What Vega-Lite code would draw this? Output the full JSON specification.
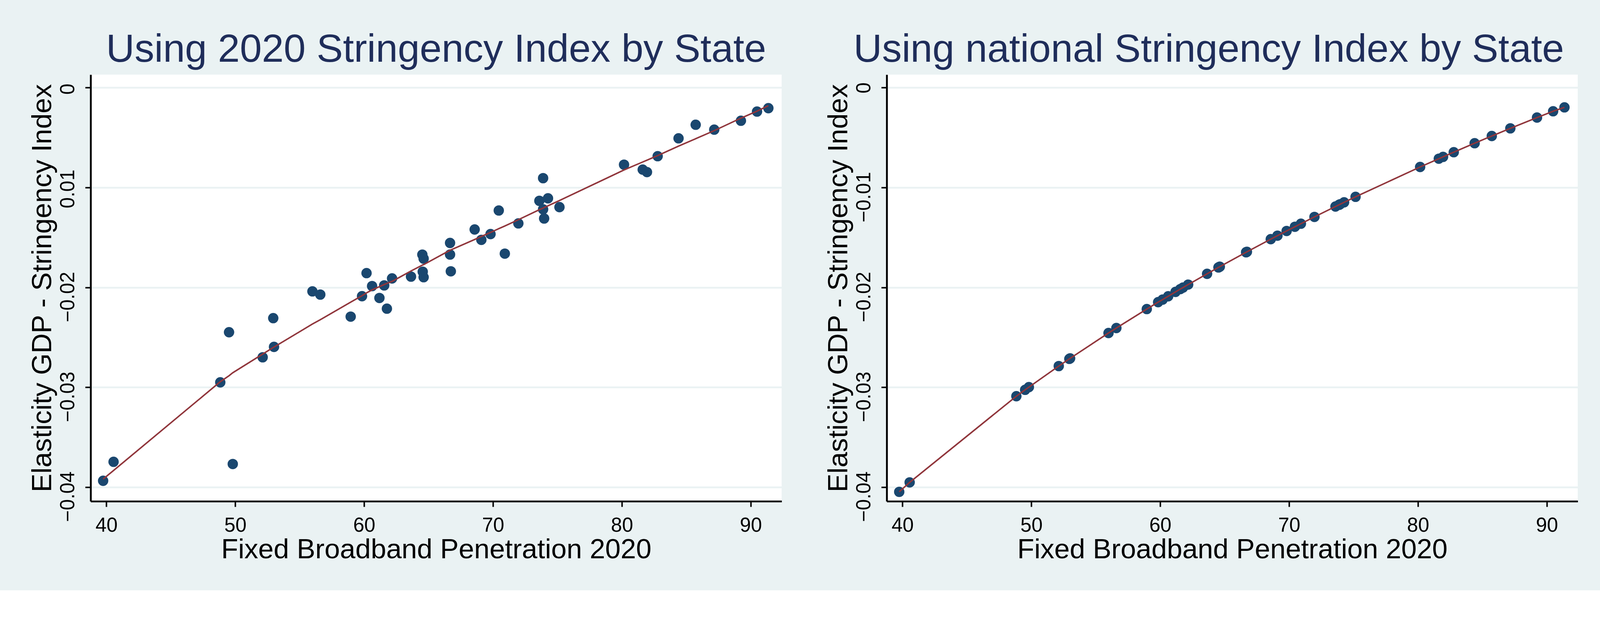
{
  "$schema": "https://vega.github.io/schema/vega-lite/v6.json",
  "background": "#EAF2F3",
  "padding": {"left": 72, "top": 76, "right": 115, "bottom": 68},
  "spacing": 109,
  "datasets": {
    "left": [
      {"x": 39.75, "y": -0.03937, "fit": -0.0392},
      {"x": 40.56, "y": -0.03747, "fit": -0.03834},
      {"x": 48.84, "y": -0.02951, "fit": -0.02945},
      {"x": 49.52, "y": -0.02449, "fit": -0.02885},
      {"x": 49.81, "y": -0.03769, "fit": -0.02855},
      {"x": 52.13, "y": -0.027, "fit": -0.02668},
      {"x": 52.95, "y": -0.02308, "fit": -0.02602},
      {"x": 53.01, "y": -0.02596, "fit": -0.02598},
      {"x": 55.99, "y": -0.0204, "fit": -0.02367},
      {"x": 56.6, "y": -0.02072, "fit": -0.02324},
      {"x": 58.96, "y": -0.02293, "fit": -0.02148},
      {"x": 59.84, "y": -0.02088, "fit": -0.02083},
      {"x": 60.19, "y": -0.01857, "fit": -0.02055},
      {"x": 60.62, "y": -0.01987, "fit": -0.02025},
      {"x": 61.19, "y": -0.02106, "fit": -0.01993},
      {"x": 61.56, "y": -0.0198, "fit": -0.01971},
      {"x": 61.77, "y": -0.02213, "fit": -0.0196},
      {"x": 62.17, "y": -0.0191, "fit": -0.0194},
      {"x": 63.64, "y": -0.01892, "fit": -0.01836},
      {"x": 64.52, "y": -0.01672, "fit": -0.01777},
      {"x": 64.55, "y": -0.01843, "fit": -0.01775},
      {"x": 64.62, "y": -0.01712, "fit": -0.01772},
      {"x": 64.62, "y": -0.01898, "fit": -0.01772},
      {"x": 66.67, "y": -0.01555, "fit": -0.01628},
      {"x": 66.67, "y": -0.01671, "fit": -0.01628},
      {"x": 66.73, "y": -0.01839, "fit": -0.01625},
      {"x": 68.58, "y": -0.0142, "fit": -0.0152},
      {"x": 69.1, "y": -0.01524, "fit": -0.0149},
      {"x": 69.81, "y": -0.01466, "fit": -0.0145},
      {"x": 70.45, "y": -0.0123, "fit": -0.01412},
      {"x": 70.92, "y": -0.01662, "fit": -0.01385},
      {"x": 71.97, "y": -0.01359, "fit": -0.01322},
      {"x": 73.6, "y": -0.01133, "fit": -0.01222},
      {"x": 73.89, "y": -0.00906, "fit": -0.01206},
      {"x": 73.89, "y": -0.01218, "fit": -0.01206},
      {"x": 73.97, "y": -0.0131, "fit": -0.01201},
      {"x": 74.27, "y": -0.01108, "fit": -0.01183},
      {"x": 75.16, "y": -0.01196, "fit": -0.0113},
      {"x": 80.17, "y": -0.00771, "fit": -0.00824},
      {"x": 81.62, "y": -0.0082, "fit": -0.00744},
      {"x": 81.95, "y": -0.00845, "fit": -0.00726},
      {"x": 82.78, "y": -0.00686, "fit": -0.0068},
      {"x": 84.4, "y": -0.00507, "fit": -0.00585},
      {"x": 85.73, "y": -0.00371, "fit": -0.00511},
      {"x": 87.17, "y": -0.0042, "fit": -0.0043},
      {"x": 89.24, "y": -0.00331, "fit": -0.00305},
      {"x": 90.49, "y": -0.00239, "fit": -0.00235},
      {"x": 91.37, "y": -0.00205, "fit": -0.0018}
    ],
    "right": [
      {"x": 39.75, "y": -0.04048},
      {"x": 40.56, "y": -0.03953},
      {"x": 48.84, "y": -0.0309},
      {"x": 49.52, "y": -0.03026},
      {"x": 49.81, "y": -0.02999},
      {"x": 52.13, "y": -0.02788},
      {"x": 52.95, "y": -0.02716},
      {"x": 53.01, "y": -0.02711},
      {"x": 55.99, "y": -0.02457},
      {"x": 56.6, "y": -0.02407},
      {"x": 58.96, "y": -0.02217},
      {"x": 59.84, "y": -0.02148},
      {"x": 60.19, "y": -0.02122},
      {"x": 60.62, "y": -0.02089},
      {"x": 61.19, "y": -0.02045},
      {"x": 61.56, "y": -0.02017},
      {"x": 61.77, "y": -0.02002},
      {"x": 62.17, "y": -0.01972},
      {"x": 63.64, "y": -0.01864},
      {"x": 64.52, "y": -0.018},
      {"x": 64.55, "y": -0.01798},
      {"x": 64.62, "y": -0.01793},
      {"x": 64.62, "y": -0.01793},
      {"x": 66.67, "y": -0.01648},
      {"x": 66.67, "y": -0.01648},
      {"x": 66.73, "y": -0.01644},
      {"x": 68.58, "y": -0.01517},
      {"x": 69.1, "y": -0.01482},
      {"x": 69.81, "y": -0.01435},
      {"x": 70.45, "y": -0.01393},
      {"x": 70.92, "y": -0.01362},
      {"x": 71.97, "y": -0.01294},
      {"x": 73.6, "y": -0.0119},
      {"x": 73.89, "y": -0.01172},
      {"x": 73.89, "y": -0.01172},
      {"x": 73.97, "y": -0.01167},
      {"x": 74.27, "y": -0.01148},
      {"x": 75.16, "y": -0.01093},
      {"x": 80.17, "y": -0.00794},
      {"x": 81.62, "y": -0.00711},
      {"x": 81.95, "y": -0.00693},
      {"x": 82.78, "y": -0.00646},
      {"x": 84.4, "y": -0.00556},
      {"x": 85.73, "y": -0.00484},
      {"x": 87.17, "y": -0.00407},
      {"x": 89.24, "y": -0.00299},
      {"x": 90.49, "y": -0.00236},
      {"x": 91.37, "y": -0.00197}
    ]
  },
  "hconcat": [
    {
      "width": 1769,
      "height": 1092,
      "title": {"text": "Using 2020 Stringency Index by State"},
      "data": {"name": "left"},
      "layer": [
        {
          "mark": {"type": "circle", "size": 707, "color": "#1A476F", "opacity": 1},
          "encoding": {
            "x": {"field": "x", "type": "quantitative", "scale": {"domain": [38.78, 92.4], "nice": false, "zero": false},
                  "axis": {"values": [40, 50, 60, 70, 80, 90], "grid": false, "title": "Fixed Broadband Penetration 2020"}},
            "y": {"field": "y", "type": "quantitative", "scale": {"domain": [-0.04142, 0.00131], "nice": false, "zero": false},
                  "axis": {"values": [0, -0.01, -0.02, -0.03, -0.04],
                           "labelExpr": "datum.value == -0.01 ? '0.01' : format(datum.value, '.2~f')",
                           "labelOffset": {"condition": {"test": "datum.value < -0.015", "value": 24}, "value": 3},
                           "grid": true, "title": "Elasticity GDP - Stringency Index"}}
          }
        },
        {
          "mark": {"type": "line", "color": "#90353B", "strokeWidth": 3.75},
          "encoding": {
            "x": {"field": "x", "type": "quantitative"},
            "y": {"field": "fit", "type": "quantitative"}
          }
        }
      ]
    },
    {
      "width": 1769,
      "height": 1092,
      "title": {"text": "Using national Stringency Index by State", "dx": -60},
      "data": {"name": "right"},
      "layer": [
        {
          "mark": {"type": "circle", "size": 707, "color": "#1A476F", "opacity": 1},
          "encoding": {
            "x": {"field": "x", "type": "quantitative", "scale": {"domain": [38.78, 92.4], "nice": false, "zero": false},
                  "axis": {"values": [40, 50, 60, 70, 80, 90], "grid": false, "title": "Fixed Broadband Penetration 2020"}},
            "y": {"field": "y", "type": "quantitative", "scale": {"domain": [-0.04142, 0.00131], "nice": false, "zero": false},
                  "axis": {"values": [0, -0.01, -0.02, -0.03, -0.04], "format": ".2~f",
                           "labelOffset": {"condition": {"test": "datum.value < -0.005", "value": 24}, "value": 0},
                           "grid": true, "title": "Elasticity GDP - Stringency Index"}}
          }
        },
        {
          "mark": {"type": "line", "color": "#90353B", "strokeWidth": 3.75},
          "encoding": {
            "x": {"field": "x", "type": "quantitative"},
            "y": {"field": "y", "type": "quantitative"}
          }
        }
      ]
    }
  ],
  "config": {
    "view": {"stroke": null, "fill": "white"},
    "font": "Liberation Sans",
    "title": {"font": "Liberation Sans", "fontSize": 101, "fontWeight": "normal", "color": "#1F2D5A", "anchor": "middle", "baseline": "alphabetic", "offset": 12.5},
    "axis": {
      "domainColor": "black", "domainWidth": 4.7, "tickColor": "black", "tickWidth": 3.75, "tickSize": 14,
      "labelFont": "Liberation Sans", "labelFontSize": 51, "labelColor": "black",
      "titleFont": "Liberation Sans", "titleFontSize": 71, "titleFontWeight": "normal", "titleColor": "black",
      "gridColor": "#EAF2F3", "gridWidth": 4.7
    },
    "axisX": {"labelPadding": 23.5, "titlePadding": 2},
    "axisY": {"labelAngle": 270, "labelAlign": "center", "labelBaseline": "alphabetic", "labelPadding": 29, "titlePadding": 3}
  }
}
